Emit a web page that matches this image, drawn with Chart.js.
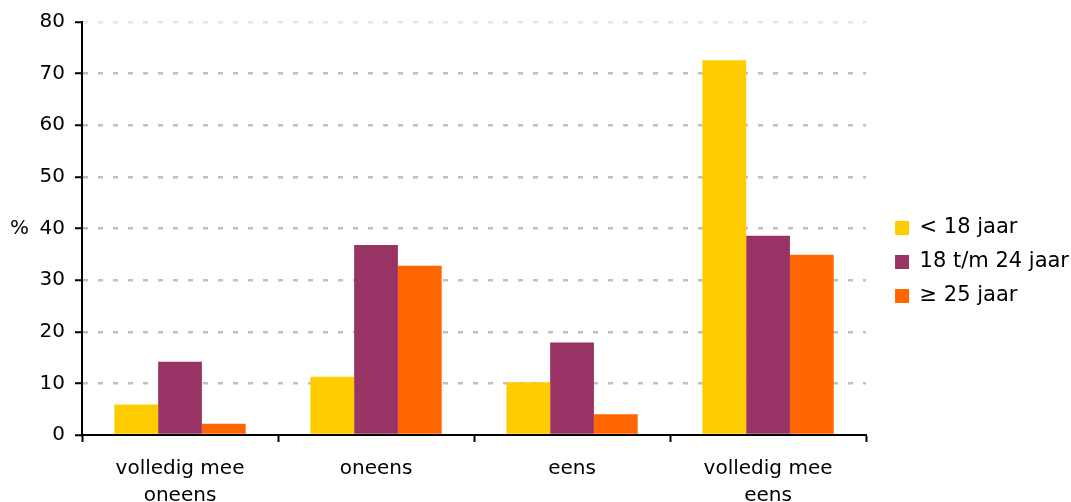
<!DOCTYPE html>
<html>
<head>
<meta charset="utf-8">
<script src="https://cdn.jsdelivr.net/npm/chart.js@4"></script>
<style>
    html, body { margin: 0; padding: 0; background: #fff; }
    #wrap { width: 1071px; height: 502px; }
</style>
</head>
<body>
<div id="wrap"><canvas id="survey_chart" width="1071" height="502"></canvas></div>
<script>
// Answers per age group (%)
var categories = [['volledig mee', 'oneens'], 'oneens', 'eens', ['volledig mee', 'eens']];
var seriesNames = ['< 18 jaar', '18 t/m 24 jaar', '\u2265 25 jaar'];
var under18 = [5.9, 11.3, 10.2, 72.6];
var age18to24 = [14.2, 36.8, 17.9, 38.6];
var over25 = [2.2, 32.8, 4.0, 34.9];
var yTicks = [0, 10, 20, 30, 40, 50, 60, 70, 80];

var colors = ['#ffcc00', '#993366', '#ff6600'];
var FONT = '"DejaVu Sans", Verdana, sans-serif';
var FS = 20;
var LEGEND_PAD = 13;

// "%" label to the left of the 40 tick
var percentLabel = {
    id: 'percentLabel',
    afterDraw: function (chart) {
        var ctx = chart.ctx;
        var y = chart.scales.y.getPixelForValue(40);
        ctx.save();
        ctx.font = FS + 'px ' + FONT;
        ctx.fillStyle = '#000';
        ctx.textAlign = 'left';
        ctx.textBaseline = 'middle';
        ctx.fillText('%', 10, y);
        ctx.restore();
    }
};

// push the legend a bit away from the plot area
var legendGap = {
    id: 'legendGap',
    afterLayout: function (chart) {
        var lg = chart.legend;
        var w = lg.right - lg.left;
        lg.left = chart.chartArea.right + 29 - LEGEND_PAD;
        lg.right = lg.left + w;
    }
};

document.addEventListener('DOMContentLoaded', function () {
    var ctx = document.getElementById('survey_chart').getContext('2d');
    new Chart(ctx, {
        type: 'bar',
        data: {
            labels: categories,
            datasets: [
                { label: seriesNames[0], data: under18, backgroundColor: colors[0] },
                { label: seriesNames[1], data: age18to24, backgroundColor: colors[1] },
                { label: seriesNames[2], data: over25, backgroundColor: colors[2] }
            ]
        },
        options: {
            responsive: false,
            animation: false,
            categoryPercentage: 0.67,
            barPercentage: 1.0,
            layout: { padding: { left: 0, top: 22, right: 8, bottom: 0 } },
            plugins: {
                tooltip: { enabled: false },
                legend: {
                    position: 'right',
                    labels: {
                        boxWidth: 14,
                        boxHeight: 14,
                        padding: LEGEND_PAD,
                        color: '#000',
                        font: { family: FONT, size: 21 }
                    }
                }
            },
            scales: {
                x: {
                    afterFit: function (axis) { axis.height = 67; },
                    grid: {
                        drawOnChartArea: false,
                        drawTicks: true,
                        tickLength: 7,
                        tickColor: '#000',
                        tickWidth: 2
                    },
                    border: { color: '#000', width: 2 },
                    ticks: {
                        color: '#000',
                        padding: 13,
                        maxRotation: 0,
                        autoSkip: false,
                        font: { family: FONT, size: FS, lineHeight: 1.35 }
                    }
                },
                y: {
                    min: 0,
                    max: 80,
                    afterBuildTicks: function (axis) {
                        axis.ticks = yTicks.map(function (v) { return { value: v }; });
                    },
                    afterFit: function (axis) { axis.width = 82; },
                    grid: {
                        lineWidth: 2.5,
                        tickLength: 7,
                        tickWidth: 2,
                        tickColor: '#000',
                        tickBorderDash: [],
                        color: function (c) {
                            if (c.tick && c.tick.value === 0) return 'rgba(0,0,0,0)';
                            if (c.tick && c.tick.value === 80) return '#e4e4e4';
                            return '#c0c0c0';
                        }
                    },
                    border: { color: '#000', width: 2, dash: [5, 10] },
                    ticks: {
                        color: '#000',
                        padding: 10,
                        font: { family: FONT, size: FS }
                    }
                }
            }
        },
        plugins: [percentLabel, legendGap]
    });
});
</script>
</body>
</html>
